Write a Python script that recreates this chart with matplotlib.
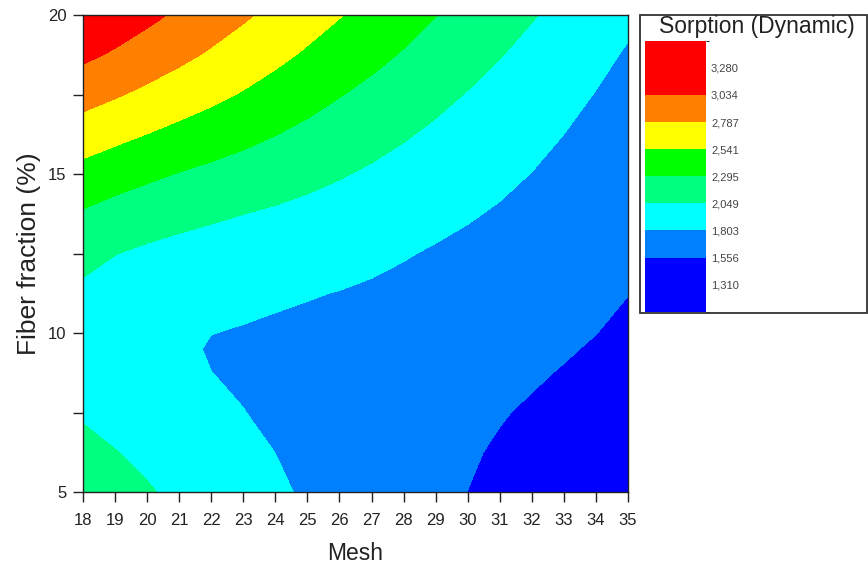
import numpy as np
import matplotlib
matplotlib.use("Agg")
import matplotlib.pyplot as plt
from matplotlib.colors import ListedColormap, BoundaryNorm
from matplotlib.cm import ScalarMappable
from matplotlib.patches import Rectangle
from matplotlib.ticker import MultipleLocator, FuncFormatter

plt.rcParams['font.family'] = ['Liberation Sans', 'DejaVu Sans']

# ---- data ----
mesh = [18, 19, 20, 21, 22, 23, 24, 25, 26, 27, 28, 29, 30, 31, 32, 33, 34, 35]
fiber = [5.0, 6.25, 7.5, 8.75, 9.5, 10.0, 11.25, 12.5, 13.75, 15.0, 16.25, 17.5, 18.75, 20.0]
sorption = [
    [2161, 2115, 2066, 2009, 1946, 1886, 1832, 1780, 1732, 1686, 1641, 1598, 1555, 1512, 1470, 1426, 1380, 1332],
    [2101, 2055, 2006, 1952, 1898, 1847, 1802, 1761, 1722, 1684, 1648, 1611, 1574, 1537, 1500, 1461, 1420, 1375],
    [2029, 1978, 1932, 1887, 1844, 1806, 1774, 1745, 1717, 1688, 1659, 1629, 1599, 1567, 1536, 1502, 1464, 1422],
    [1970, 1917, 1876, 1839, 1804, 1782, 1762, 1743, 1724, 1702, 1679, 1655, 1629, 1603, 1576, 1546, 1512, 1471],
    [1963, 1909, 1869, 1836, 1790, 1788, 1772, 1756, 1740, 1720, 1698, 1675, 1651, 1627, 1601, 1572, 1540, 1499],
    [1958, 1903, 1865, 1834, 1805, 1792, 1778, 1764, 1750, 1732, 1711, 1689, 1666, 1643, 1618, 1590, 1558, 1518],
    [2007, 1949, 1910, 1882, 1860, 1843, 1827, 1813, 1798, 1779, 1756, 1733, 1709, 1685, 1660, 1632, 1599, 1559],
    [2114, 2054, 2011, 1979, 1953, 1931, 1910, 1890, 1868, 1843, 1815, 1786, 1759, 1732, 1703, 1671, 1634, 1592],
    [2272, 2209, 2159, 2117, 2083, 2051, 2021, 1990, 1958, 1924, 1888, 1852, 1819, 1785, 1750, 1711, 1669, 1623],
    [2462, 2397, 2339, 2286, 2240, 2197, 2154, 2109, 2065, 2020, 1974, 1929, 1886, 1843, 1800, 1754, 1707, 1657],
    [2669, 2602, 2539, 2476, 2418, 2360, 2300, 2241, 2182, 2125, 2069, 2013, 1959, 1907, 1855, 1803, 1750, 1695],
    [2879, 2809, 2737, 2666, 2596, 2524, 2451, 2377, 2305, 2238, 2172, 2104, 2040, 1978, 1918, 1858, 1797, 1737],
    [3083, 3005, 2923, 2841, 2759, 2677, 2595, 2512, 2432, 2355, 2279, 2202, 2128, 2058, 1988, 1918, 1850, 1785],
    [3268, 3182, 3089, 2998, 2908, 2818, 2728, 2640, 2552, 2467, 2383, 2299, 2219, 2141, 2064, 1987, 1911, 1840],
]
legend_levels = [1310, 1556, 1803, 2049, 2295, 2541, 2787, 3034, 3280]
band_colors = ['#0000ff', '#0080ff', '#00ffff', '#00ff80', '#00ff00', '#ffff00', '#ff8000', '#ff0000']

# ---- figure ----
W, H = 868, 567
fig = plt.figure(figsize=(W / 100, H / 100), dpi=100)

def fx(px):
    return px / W

def fy(py):
    return 1 - py / H

ax = fig.add_axes([fx(83), fy(492), fx(628) - fx(83), fy(15) - fy(492)])

X, Y = np.meshgrid(mesh, fiber)
Z = np.array(sorption, float)
step = legend_levels[1] - legend_levels[0]
bounds = [legend_levels[0] - step] + legend_levels[1:-1] + [legend_levels[-1] + step]
ax.contourf(X, Y, Z, levels=bounds, colors=band_colors, extend='both', antialiased=False)

ax.set_xlim(18, 35)
ax.set_ylim(5, 20)
ax.xaxis.set_major_locator(MultipleLocator(1))
ax.yaxis.set_major_locator(MultipleLocator(5))
ax.yaxis.set_minor_locator(MultipleLocator(2.5))
ax.tick_params(axis='both', which='both', direction='out', length=7, width=1.0,
               color='#222222', labelcolor='#222222', labelsize=12)
ax.tick_params(axis='x', pad=8)
ax.tick_params(axis='y', pad=5)
for s in ax.spines.values():
    s.set_linewidth(1.0)
    s.set_color('#222222')
ax.set_xlabel('Mesh', fontsize=16.5, color='#222222', labelpad=10)
ax.set_ylabel('Fiber fraction (%)', fontsize=19, color='#222222', labelpad=5)

# ---- legend panel ----
fig.patches.append(Rectangle((fx(639.5), fy(313)), fx(866.5) - fx(639.5), fy(15) - fy(313),
                             transform=fig.transFigure, fill=False, edgecolor='#333333',
                             linewidth=1.3))
fig.text(fx(757), fy(27), 'Sorption (Dynamic)', fontsize=16.5, color='#222222',
         ha='center', va='center')

cax = fig.add_axes([fx(644.5), fy(311.7), fx(705.5) - fx(644.5), fy(40.7) - fy(311.7)])
cmap = ListedColormap(band_colors)
norm = BoundaryNorm(bounds, cmap.N)
cb = fig.colorbar(ScalarMappable(norm=norm, cmap=cmap), cax=cax, ticks=legend_levels,
                  spacing='proportional')
cb.outline.set_visible(False)
cb.ax.tick_params(length=0, labelsize=8, labelcolor='#444444', pad=4)
cb.ax.yaxis.set_major_formatter(FuncFormatter(lambda v, p: f"{int(round(v)):,}"))

fig.savefig('out.png', dpi=100)
